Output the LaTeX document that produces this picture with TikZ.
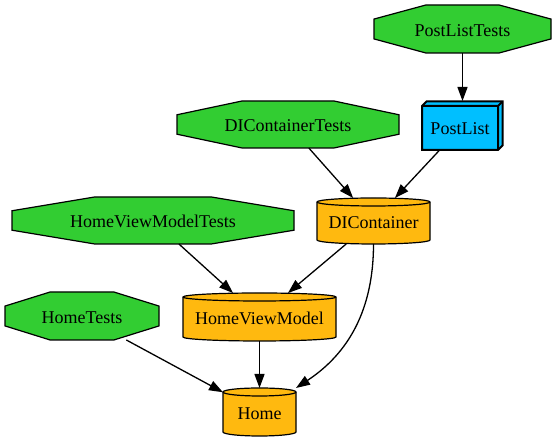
\documentclass[tikz,border=0pt]{standalone}
\usepackage{fontspec}
\setmainfont{Liberation Serif}
\usetikzlibrary{arrows.meta,calc}
\definecolor{tgreen}{HTML}{32CD32}
\definecolor{tblue}{HTML}{00BFFF}
\definecolor{torange}{HTML}{FFB90F}
\tikzset{
  octshape/.style={fill=tgreen,draw=black,line width=1.2pt,line join=miter},
  cylshape/.style={fill=torange,draw=black,line width=1.2pt},
  cylline/.style={draw=black,line width=1.2pt},
  boxshape/.style={fill=tblue,draw=black,line width=2pt,line join=miter},
  txtnode/.style={inner sep=0pt,outer sep=0pt,draw=none,text height=15pt,text depth=0pt,font=\fontsize{18}{20}\selectfont},
  edge/.style={draw=black,line width=1.3pt,-{Triangle[length=14pt,width=10pt]}}
}
\newcommand\octo[6]{%
  \pgfmathsetmacro\oAx{#4/2}\pgfmathsetmacro\oBx{0.207*#4}%
  \pgfmathsetmacro\oAy{#5/2}\pgfmathsetmacro\oBy{0.207*#5}%
  \filldraw[octshape] ({#2-\oAx},{#3-\oBy}) -- ({#2-\oAx},{#3+\oBy}) -- ({#2-\oBx},{#3+\oAy}) -- ({#2+\oBx},{#3+\oAy}) -- ({#2+\oAx},{#3+\oBy}) -- ({#2+\oAx},{#3-\oBy}) -- ({#2+\oBx},{#3-\oAy}) -- ({#2-\oBx},{#3-\oAy}) -- cycle;
  \node[txtnode,minimum width=#4pt,minimum height=#5pt] (#1) at (#2,#3) {#6};}
\newcommand\cyl[6]{%
  \pgfmathsetmacro\cA{#4/2}\pgfmathsetmacro\cB{#5/2}%
  \filldraw[cylshape] ({#2-\cA},{#3+\cB-4}) -- ({#2-\cA},{#3-\cB+4}) arc[start angle=180,end angle=360,x radius=\cA pt,y radius=4pt] -- ({#2+\cA},{#3+\cB-4}) arc[start angle=0,end angle=180,x radius=\cA pt,y radius=4pt] -- cycle;
  \draw[cylline] ({#2-\cA},{#3+\cB-4}) arc[start angle=180,end angle=360,x radius=\cA pt,y radius=4pt];
  \node[txtnode,minimum width=#4pt,minimum height=#5pt] (#1) at (#2,#3) {#6};}
\begin{document}
\begin{tikzpicture}[x=1pt,y=1pt]
\useasboundingbox (0,0) rectangle (555,443);
% PostListTests
\octo{plt}{462.5}{414}{177}{48}{PostListTests}
% PostList (box3d)
\filldraw[boxshape] (422,293) -- (422,337) -- (426.5,341.5) -- (502.5,341.5) -- (502.5,297.5) -- (498,293) -- cycle;
\draw[boxshape,fill=none] (422,337) -- (498,337) -- (498,293) (498,337) -- (502.5,341.5);
\node[txtnode,minimum width=81pt,minimum height=49pt] (pl) at (462.5,317.5) {};
\node[txtnode] at (460,315.5) {PostList};
% DIContainerTests
\octo{dct}{288}{318.5}{222}{47}{DIContainerTests}
% DIContainer
\cyl{dic}{373.5}{222}{113}{46}{DIContainer}
% HomeViewModelTests
\octo{hvmt}{153}{222.5}{282}{47}{HomeViewModelTests}
% HomeViewModel
\cyl{hvm}{259.5}{126}{153}{48}{HomeViewModel}
% HomeTests
\octo{ht}{82}{127}{154}{48}{HomeTests}
% Home
\cyl{home}{259.5}{31}{73}{48}{Home}
% edges
\draw[edge] (plt) -- (pl);
\draw[edge] (pl) -- (dic);
\draw[edge] (dct) -- (dic);
\draw[edge] (dic) -- (hvm);
\draw[edge] (hvmt) -- (hvm);
\draw[edge] (dic.south) .. controls +(0,-65) and +(53,35) .. (home.north east);
\draw[edge] (hvm) -- (home);
\draw[edge] (ht) -- (home);
\end{tikzpicture}
\end{document}
